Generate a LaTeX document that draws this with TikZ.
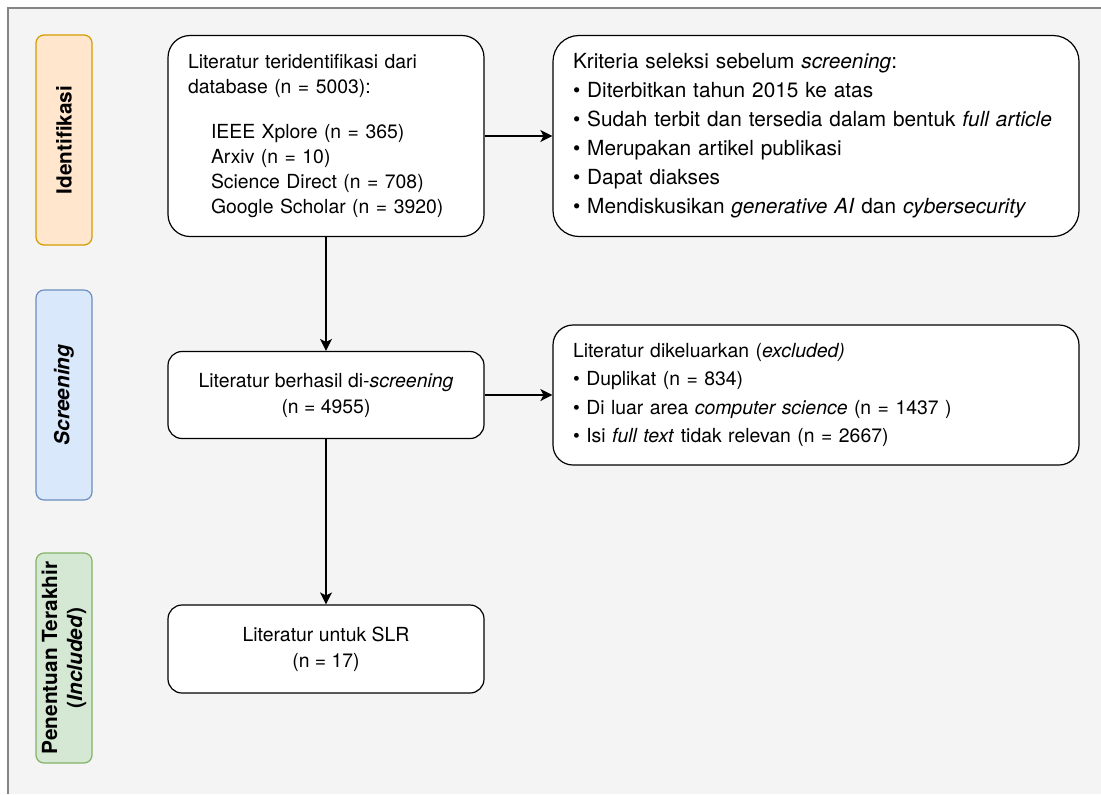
\documentclass[tikz,border=0pt]{standalone}
\usepackage{fontspec}
\setmainfont{TeX Gyre Heros}
\usetikzlibrary{arrows.meta}
\definecolor{bgpage}{HTML}{F4F4F4}
\definecolor{framegray}{HTML}{858585}
\definecolor{idfill}{HTML}{FFE6CC}
\definecolor{iddraw}{HTML}{D79B00}
\definecolor{scfill}{HTML}{DAE8FC}
\definecolor{scdraw}{HTML}{6C8EBF}
\definecolor{infill}{HTML}{D5E8D4}
\definecolor{indraw}{HTML}{82B366}
\begin{document}
\begin{tikzpicture}[x=0.5pt,y=-0.5pt,
  font=\fontsize{9.7}{12.5}\selectfont,
  box/.style={draw=black,line width=0.6pt,fill=white,inner sep=0pt},
  lane/.style={rounded corners=4pt,line width=0.6pt,rotate=90,minimum width=105pt,
    minimum height=28pt,inner sep=0pt,align=center,font=\fontsize{10.4}{12.5}\selectfont\bfseries},
  arr/.style={line width=0.6pt,-{Stealth[length=6pt,width=6pt,inset=1.5pt]}}]
\useasboundingbox (0,0) rectangle (1101,794);
\fill[white] (0,0) rectangle (1101,794);
\fill[bgpage] (8,8) rectangle (1101,794);
\draw[framegray,line width=0.7pt] (8,794) -- (8,8) -- (1101,8);

% lanes
\node[lane,fill=idfill,draw=iddraw] (laneid) at (64,140) {Identifikasi};
\node[lane,fill=scfill,draw=scdraw] (lanesc) at (64,395) {\textit{Screening}};
\node[lane,fill=infill,draw=indraw] (lanein) at (64,658) {Penentuan Terakhir\\(\textit{Included})};

% boxes
\node[box,rounded corners=11pt,minimum width=158pt,minimum height=100.5pt,
  text width=138pt,align=left] (lit) at (326,136) {Literatur teridentifikasi dari\\
  database (n = 5003):\\[10pt]
  \hspace*{11.5pt}IEEE Xplore (n = 365)\\
  \hspace*{11.5pt}Arxiv (n = 10)\\
  \hspace*{11.5pt}Science Direct (n = 708)\\
  \hspace*{11.5pt}Google Scholar (n = 3920)};
\node[box,rounded corners=13pt,minimum width=263pt,minimum height=100.5pt,
  text width=243pt,align=left,font=\fontsize{10.4}{14.5}\selectfont] (krit) at (816,136)
  {Kriteria seleksi sebelum \textit{screening}:\\
  \textbullet\ Diterbitkan tahun 2015 ke atas\\
  \textbullet\ Sudah terbit dan tersedia dalam bentuk \textit{full article}\\
  \textbullet\ Merupakan artikel publikasi\\
  \textbullet\ Dapat diakses\\
  \textbullet\ Mendiskusikan \textit{generative AI} dan \textit{cybersecurity}};
\node[box,rounded corners=7pt,minimum width=158pt,minimum height=43.5pt,
  align=center,font=\fontsize{9.7}{13}\selectfont] (scr) at (326,395)
  {Literatur berhasil di-\textit{screening}\\(n = 4955)};
\node[box,rounded corners=10pt,minimum width=263pt,minimum height=70pt,
  text width=243pt,align=left,font=\fontsize{9.7}{14.2}\selectfont] (excl) at (816,395)
  {Literatur dikeluarkan (\textit{excluded)}\\
  \textbullet\ Duplikat (n = 834)\\
  \textbullet\ Di luar area \textit{computer science} (n = 1437 )\\
  \textbullet\ Isi \textit{full text} tidak relevan (n = 2667)};
\node[box,rounded corners=7pt,minimum width=158pt,minimum height=44pt,
  align=center,font=\fontsize{9.7}{13}\selectfont] (slr) at (326,649)
  {Literatur untuk SLR\\(n = 17)};

% arrows
\draw[arr] (lit.south) -- (scr.north);
\draw[arr] (scr.south) -- (slr.north);
\draw[arr] (lit.east) -- (krit.west);
\draw[arr] (scr.east) -- (excl.west);
\end{tikzpicture}
\end{document}
